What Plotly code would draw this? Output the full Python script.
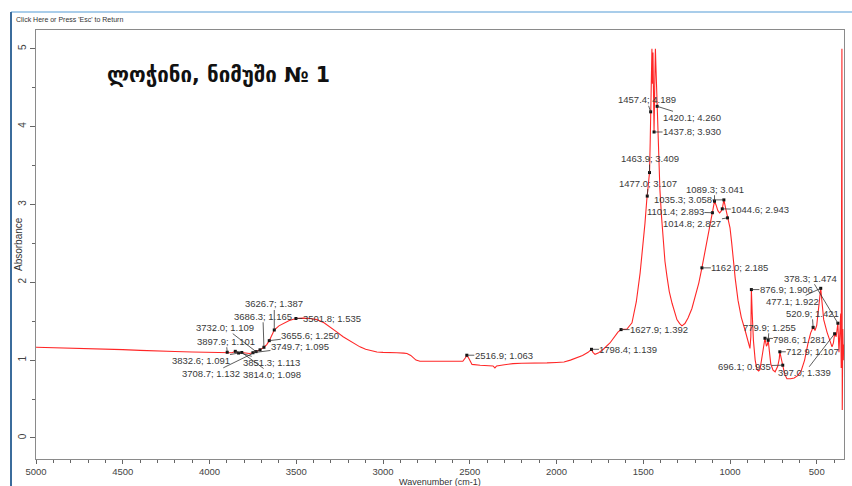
import plotly.graph_objects as go

# FTIR spectrum: wavenumber (cm-1) and absorbance
wavenumber = [
    5000, 4900, 4800, 4700, 4600, 4500, 4400, 4300, 4200, 4100, 4000, 3950,
    3897.9, 3870, 3851.3, 3840, 3832.6, 3814.0, 3790, 3770, 3749.7, 3732.0,
    3720, 3708.7, 3686.3, 3670, 3655.6, 3640, 3626.7, 3600, 3570, 3540,
    3501.8, 3460, 3420, 3380, 3340, 3300, 3265, 3230, 3200, 3160, 3133, 3100,
    3060, 3035, 3000, 2960, 2920, 2880, 2862, 2840, 2827, 2810, 2787, 2740,
    2700, 2650, 2600, 2560, 2540, 2525, 2516.9, 2505, 2487, 2440, 2400, 2366,
    2355, 2345, 2300, 2251, 2200, 2150, 2100, 2055, 2000, 1957, 1920, 1882,
    1850, 1818, 1805, 1798.4, 1790, 1778, 1760, 1730, 1692, 1660, 1646,
    1627.9, 1610, 1594, 1565, 1540, 1518, 1500, 1490, 1480, 1477.0, 1470,
    1463.9, 1460, 1457.4, 1454, 1450, 1447, 1444, 1440, 1437.8, 1434, 1430,
    1426, 1420.1, 1415, 1410, 1404, 1395, 1386, 1375, 1363, 1350, 1334, 1320,
    1306, 1290, 1277, 1260, 1242, 1220, 1202, 1180, 1162.0, 1145, 1133, 1115,
    1101.4, 1095, 1089.3, 1080, 1070, 1060, 1052, 1044.6, 1035.3, 1025,
    1014.8, 1000, 990, 983, 970, 954, 935, 914, 896, 885, 880, 876.9, 872,
    865, 855, 845, 835, 827, 815, 805, 798.6, 790, 785, 779.9, 772, 765, 752,
    740, 725, 716, 712.9, 705, 696.1, 685, 672, 650, 630, 610, 590, 570, 550,
    535, 520.9, 510, 500, 490, 480, 477.1, 470, 460, 441, 425, 412, 404,
    397.0, 388, 378.3, 372, 366, 362, 359, 357, 355, 353, 350, 347, 345,
]
absorbance = [
    1.165, 1.16, 1.155, 1.15, 1.14, 1.135, 1.125, 1.115, 1.11, 1.105, 1.10, 1.10,
    1.101, 1.095, 1.113, 1.095, 1.091, 1.098, 1.09, 1.085, 1.095, 1.109,
    1.12, 1.132, 1.165, 1.20, 1.250, 1.32, 1.387, 1.44, 1.48, 1.51,
    1.535, 1.54, 1.535, 1.52, 1.48, 1.42, 1.36, 1.30, 1.26, 1.20, 1.17, 1.14,
    1.115, 1.105, 1.10, 1.10, 1.095, 1.09, 1.085, 1.06, 1.03, 1.00, 0.985, 0.985,
    0.98, 0.985, 0.98, 0.98, 0.985, 1.03, 1.063, 1.02, 0.945, 0.935, 0.93, 0.925,
    0.90, 0.925, 0.94, 0.955, 0.96, 0.96, 0.965, 0.965, 0.97, 0.975, 1.00, 1.03,
    1.06, 1.10, 1.12, 1.139, 1.10, 1.075, 1.09, 1.14, 1.22, 1.31, 1.36,
    1.392, 1.395, 1.40, 1.48, 1.75, 2.12, 2.50, 2.76, 3.05, 3.107, 3.25,
    3.409, 3.80, 4.189, 4.70, 5.00, 4.55, 4.95, 4.30, 3.930, 4.50, 5.00,
    4.70, 4.260, 3.90, 3.55, 3.19, 2.85, 2.55, 2.27, 2.07, 1.88, 1.73, 1.61,
    1.52, 1.47, 1.44, 1.47, 1.54, 1.66, 1.81, 1.99, 2.185, 2.38, 2.55, 2.75,
    2.893, 2.97, 3.041, 2.99, 2.92, 2.89, 2.91, 2.943, 3.058, 2.95,
    2.827, 2.70, 2.50, 2.33, 2.05, 1.77, 1.55, 1.39, 1.22, 1.15, 1.30, 1.906, 1.60,
    1.25, 1.00, 0.88, 0.86, 0.88, 1.05, 1.22, 1.281, 1.18, 1.20, 1.255, 1.08, 0.95, 0.87,
    0.85, 0.92, 1.02, 1.107, 1.02, 0.935, 0.82, 0.76, 0.76, 0.77, 0.80, 0.86, 1.00, 1.22,
    1.35, 1.421, 1.38, 1.45, 1.65, 1.90, 1.922, 1.75, 1.52, 1.36, 1.25, 1.17, 1.22,
    1.339, 1.30, 1.474, 1.10, 1.55, 1.60, 0.90, 2.60, 5.00, 0.36, 1.40, 1.00, 1.20,
]

# Picked peaks (wavenumber; absorbance)
peak_wn = [3626.7, 3686.3, 3501.8, 3732.0, 3655.6, 3897.9, 3749.7, 3832.6,
           3851.3, 3708.7, 3814.0, 1457.4, 1420.1, 1437.8, 1463.9, 1477.0,
           1089.3, 1035.3, 1101.4, 1044.6, 1014.8, 1162.0, 1627.9, 1798.4,
           2516.9, 378.3, 876.9, 477.1, 520.9, 779.9, 798.6, 712.9, 696.1, 397.0]
peak_abs = [1.387, 1.165, 1.535, 1.109, 1.250, 1.101, 1.095, 1.091,
            1.113, 1.132, 1.098, 4.189, 4.260, 3.930, 3.409, 3.107,
            3.041, 3.058, 2.893, 2.943, 2.827, 2.185, 1.392, 1.139,
            1.063, 1.474, 1.906, 1.922, 1.421, 1.255, 1.281, 1.107, 0.935, 1.339]

# Pixel offsets of each peak label from its marker
label_offsets = [(0, -26), (-1, -31), (36, 0), (-31, -24), (41, -5), (-1, -11),
                 (47, -6), (-38, 7), (36, 11), (-49, 24), (30, 22), (-4, -12),
                 (35, 11), (38, 0), (0, -14), (1, -13), (0, -12), (-41, 0),
                 (-37, -1), (38, 1), (-35, 6), (38, 0), (38, 0), (37, 0), (37, 0),
                 (-27, -45), (35, 0), (-28, 13), (-1, -14), (1, -13), (35, 1),
                 (33, 0), (-38, 1), (-30, 39)]

title_text = "ლოჭინი, ნიმუში № 1"
x_title = "Wavenumber (cm-1)"
y_title = "Absorbance"
header_text = "Click Here or Press 'Esc' to Return"

label_font = dict(family="Liberation Sans, Arial, sans-serif", size=9.5, color="#3a3a3a")

fig = go.Figure()
fig.add_trace(go.Scatter(
    x=wavenumber, y=absorbance, mode="lines",
    line=dict(color="rgba(255,0,0,0.85)", width=1.1),
    hoverinfo="skip", showlegend=False,
))
fig.add_trace(go.Scatter(
    x=peak_wn, y=peak_abs, mode="markers",
    marker=dict(symbol="square", size=3, color="#111111"),
    showlegend=False,
))

annotations = []
for wn, a, (dx, dy) in zip(peak_wn, peak_abs, label_offsets):
    annotations.append(dict(
        x=wn, y=a, xref="x", yref="y",
        text=f"{wn:.1f}; {a:.3f}",
        showarrow=True, arrowhead=0, arrowwidth=0.8, arrowcolor="#333333",
        ax=dx, ay=dy, standoff=0, borderpad=0,
        font=label_font,
    ))

plot_w, plot_h = 808, 429
left, top = 36, 30


def px_x(px):
    return (px - left) / plot_w


def px_y(py):
    return (top + plot_h - py) / plot_h


annotations += [
    dict(text=title_text, x=px_x(105), y=px_y(75), xref="paper", yref="paper",
         xanchor="left", yanchor="middle", showarrow=False,
         font=dict(family="DejaVu Sans", size=20.5, color="#111111", weight="bold")),
    dict(text=x_title, x=px_x(440), y=px_y(476), xref="paper", yref="paper",
         xanchor="center", yanchor="top", showarrow=False, borderpad=0,
         font=dict(family="Liberation Sans, Arial", size=9, color="#333333")),
    dict(text=y_title, x=px_x(18), y=px_y(244), xref="paper", yref="paper",
         xanchor="center", yanchor="middle", showarrow=False, textangle=-90,
         font=dict(family="Liberation Sans, Arial", size=10, color="#333333")),
    dict(text=header_text, x=px_x(14), y=px_y(20), xref="paper", yref="paper",
         xanchor="left", yanchor="middle", showarrow=False,
         font=dict(family="Liberation Sans, Arial", size=7, color="#333333")),
]

shapes = [
    # window frame
    dict(type="line", xref="paper", yref="paper",
         x0=px_x(11), x1=px_x(852), y0=px_y(12), y1=px_y(12),
         line=dict(color="#a9cdea", width=2)),
    dict(type="line", xref="paper", yref="paper",
         x0=px_x(11), x1=px_x(11), y0=px_y(12), y1=px_y(486),
         line=dict(color="#3b6c9c", width=2)),
]

axis_font = dict(family="Liberation Sans, Arial", size=10, color="#444444")
fig.update_layout(
    width=852, height=486, autosize=False,
    margin=dict(l=36, r=8, t=30, b=27),
    paper_bgcolor="white", plot_bgcolor="white",
    annotations=annotations, shapes=shapes,
    xaxis=dict(
        range=[5000, 343], showgrid=False, zeroline=False,
        showline=True, mirror=True, linecolor="#8a8a8a", linewidth=1,
        ticks="outside", ticklen=4, tickcolor="#666666", dtick=500, tick0=0,
        tickfont=dict(family="Liberation Sans, Arial", size=9.5, color="#444444"),
        minor=dict(ticks="outside", ticklen=3, dtick=100, tickcolor="#666666"),
    ),
    yaxis=dict(
        range=[-0.27, 5.24], showgrid=False, zeroline=False,
        showline=True, mirror=True, linecolor="#8a8a8a", linewidth=1,
        ticks="outside", ticklen=5, tickcolor="#666666", dtick=1, tick0=0,
        tickangle=-90, tickfont=axis_font,
        minor=dict(ticks="outside", ticklen=3, dtick=0.5, tickcolor="#666666"),
    ),
)

fig.write_html("out.html")
